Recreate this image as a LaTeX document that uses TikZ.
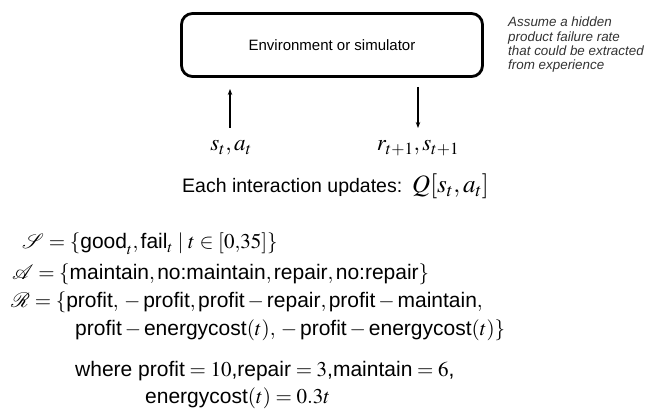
\documentclass[tikz,border=0pt]{standalone}
\usepackage{mathptmx}
\usepackage{mathrsfs}
\usepackage{fontspec}
\setmainfont{Liberation Sans}
\usetikzlibrary{shadows,arrows.meta}
\newcommand{\w}[1]{\mbox{#1}}
\tikzset{
  envbox/.style={draw, line width=2.8pt, rounded corners=11pt, minimum width=301pt, minimum height=63pt,
    fill=white, drop shadow={shadow xshift=1pt, shadow yshift=-1.5pt, opacity=0.35},
    font=\fontsize{15}{18}\selectfont},
  note/.style={align=left, inner sep=0pt, font=\fontsize{13.4}{14.2}\selectfont\itshape, text=black!80},
  mlabel/.style={anchor=base, inner sep=0pt, font=\fontsize{23}{27}\selectfont},
  flow/.style={-{Stealth[length=6pt,width=4.5pt]}, line width=1.1pt},
  eqline/.style={anchor=base west, inner sep=0pt, font=\fontsize{21}{25}\selectfont},
  eachline/.style={anchor=base west, inner sep=0pt, font=\fontsize{19.5}{23}\selectfont},
}
\begin{document}
\begin{tikzpicture}[x=1pt,y=-1pt]
\useasboundingbox (0,0) rectangle (649,414);
\node[envbox] (env) at (332,45) {Environment or simulator};
\node[note, anchor=north west] (note) at (508,17) {Assume a hidden\\product failure rate\\that could be extracted\\from experience};
\coordinate (upA) at (230,128);
\coordinate (upB) at (230,89);
\coordinate (dnA) at (418,87);
\coordinate (dnB) at (418,128);
\draw[flow] (upA) -- (upB);
\draw[flow] (dnA) -- (dnB);
\node[mlabel] (sa) at (231,151) {$s_t, a_t$};
\node[mlabel] (rs) at (418,151) {$r_{t+1}, s_{t+1}$};
\node[eachline] (each) at (182,193) {Each interaction updates:};
\node[eqline, font=\fontsize{25}{28}\selectfont] (q) at (412,193) {$Q[s_t, a_t]$};
\node[eqline] (S) at (22,249) {$\mathscr{S} = \{\w{good}_t, \w{fail}_t \mid t \in [0{,}35]\}$};
\node[eqline] (A) at (12,280) {$\mathscr{A} = \{\w{maintain}, \w{no:maintain}, \w{repair}, \w{no:repair}\}$};
\node[eqline] (R) at (11,308) {$\mathscr{R} = \{\w{profit},{}-\w{profit}, \w{profit} - \w{repair}, \w{profit} - \w{maintain},$};
\node[eqline] (R2) at (75,336) {$\w{profit} - \w{energycost}(t),{}-\w{profit} - \w{energycost}(t)\}$};
\node[eqline] (W) at (75,377) {where $\w{profit} = 10$,$\w{repair} = 3$,$\w{maintain} = 6$,};
\node[eqline] (W2) at (145,404) {$\w{energycost}(t) = 0.3t$};
\end{tikzpicture}
\end{document}
